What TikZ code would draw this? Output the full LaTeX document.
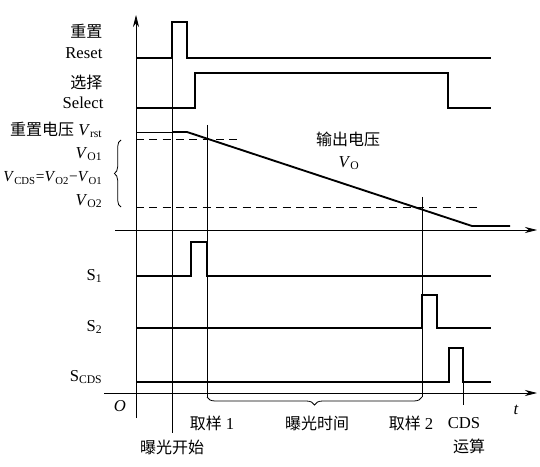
\documentclass[tikz,border=0pt]{standalone}
\usepackage{fontspec}
\setmainfont{Liberation Serif}
\newfontfamily\cjk{Noto Sans CJK SC}
\usepackage{tikz}
\usetikzlibrary{arrows.meta,decorations.pathreplacing,positioning}

\begin{document}
\begin{tikzpicture}[
  x=0.75pt, y=-0.75pt,
  every node/.style={font=\fontsize{12.5}{14}\selectfont, inner sep=1pt},
  sig/.style={line width=1.4pt, line join=miter},
  thinline/.style={line width=0.6pt},
  axis/.style={thinline, -{Stealth[length=3.2mm, width=1.6mm]}},
  guide/.style={thinline, dashed, dash pattern=on 6pt off 4pt},
  lab/.style={anchor=east},
  cnlab/.style={font=\fontsize{12}{14}\selectfont\cjk},
  brace/.style={thinline, decorate, decoration={brace, amplitude=#1}},
  brace/.default=5pt,
]
\useasboundingbox (0,0) rectangle (540,467);

% === axes ===
\draw[axis] (136,418) -- (136,15);
\draw[axis] (115,230) -- (537,230);
\draw[axis] (104,393) -- (537,393);
\node (orig) at (120,406) {\textit{O}};
\node (taxis) at (516,410) {\textit{t}};

% === key instants ===
\coordinate (expo) at (172,58);
\coordinate (smp1) at (207,125);
\coordinate (smp2) at (422,197);
\coordinate (cds) at (463,348);

% === Reset / Select ===
\node[lab, cnlab] (rstcn) at (104,31) {重置};
\node[lab] (rsten) at (104,53) {Reset};
\draw[sig] (136,58) -- (172,58) -- (172,22) -- (187,22) -- (187,58) -- (491,58);

\node[lab, cnlab] (selcn) at (104,82) {选择};
\node[lab] (selen) at (105,103) {Select};
\draw[sig] (136,108) -- (195,108) -- (195,73) -- (448,73) -- (448,108) -- (491,108);

% === output voltage ===
\node[lab] (vrst) at (104,130) {{\cjk\fontsize{12}{14}\selectfont 重置电压} \textit{V}\textsubscript{rst}};
\node[lab] (vo1) at (104,154) {\textit{V}\textsubscript{O1}};
\node[lab, font=\fontsize{11.5}{13}\selectfont] (vcds) at (104,178)
  {\textit{V}\textsubscript{CDS}=\textit{V}\textsubscript{O2}\textminus\textit{V}\textsubscript{O1}};
\node[lab] (vo2) at (104,201) {\textit{V}\textsubscript{O2}};
\draw[brace=5pt] (121,207) -- (121,140);

\draw[thinline] (136,132) -- (172,132);
\draw[sig] (172,132) -- (187,132) -- (472,226) -- (510,226);
\draw[guide] (136,139) -- (242,139);
\draw[guide] (136,207) -- (478,207);
\node[cnlab] (vocn) at (348,139) {输出电压};
\node (voen) at (349,163) {\textit{V}\textsubscript{O}};

% === sample switches ===
\node[lab] (s1) at (104,276) {S\textsubscript{1}};
\draw[sig] (136,276) -- (191,276) -- (191,242) -- (207,242) -- (207,276) -- (491,276);

\node[lab] (s2) at (104,327) {S\textsubscript{2}};
\draw[sig] (136,328) -- (422,328) -- (422,295) -- (437,295) -- (437,328) -- (491,328);

\node[lab] (scds) at (104,377) {S\textsubscript{CDS}};
\draw[sig] (136,382) -- (449,382) -- (449,348) -- (463,348) -- (463,382) -- (491,382);

% === time markers ===
\draw[thinline] (expo) -- (172,433);
\draw[thinline] (smp1) -- (207,397);
\draw[thinline] (smp2) -- (422,397);
\draw[thinline] (cds) -- (463,405);
\draw[brace=6pt, decoration={mirror}] (207,397) -- (422,397);

\node[cnlab] (expstart) at (172,447) {曝光开始};
\node (smp1lab) at (212,423) {{\cjk\fontsize{12}{14}\selectfont 取样} 1};
\node[cnlab] (expotime) at (317,423) {曝光时间};
\node (smp2lab) at (411,423) {{\cjk\fontsize{12}{14}\selectfont 取样} 2};
\node (cdslab) at (464,423) {CDS};
\node[cnlab] (cdsop) at (469,446) {运算};
\end{tikzpicture}
\end{document}
